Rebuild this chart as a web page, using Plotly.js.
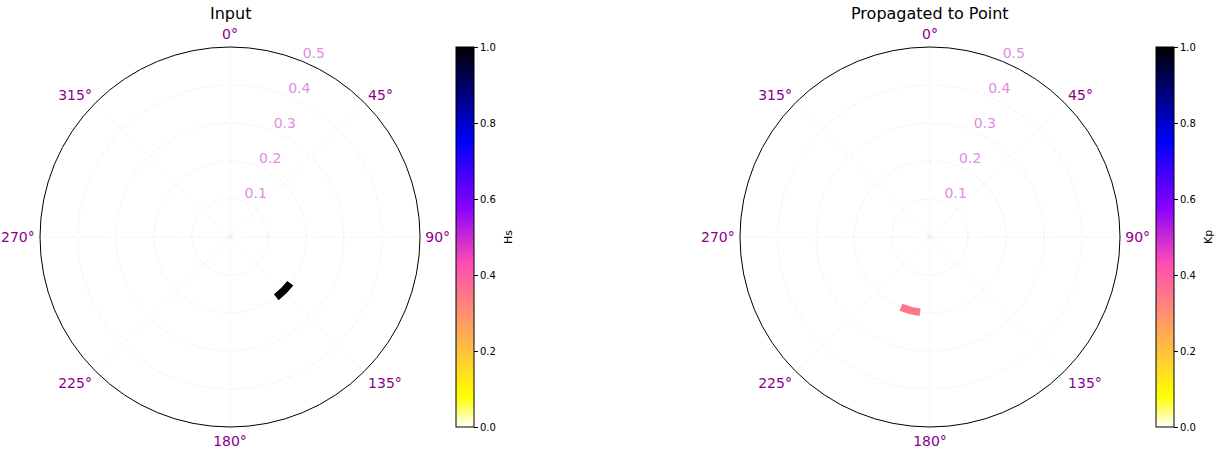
<!DOCTYPE html>
<html>
<head>
<meta charset="utf-8">
<script src="https://cdn.plot.ly/plotly-3.0.1.min.js"></script>
<style>html,body{margin:0;padding:0;background:#fff;}#chart{width:1218px;height:457px;}</style>
</head>
<body>
<div id="chart"></div>
<script>
// ---- data ----
const panelTitles = ["Input", "Propagated to Point"];
const colorbarTitles = ["Hs", "Kp"];
const angleTicks = [0, 45, 90, 135, 180, 225, 270, 315];
const angleTickText = ["0°", "45°", "90°", "135°", "180°", "225°", "270°", "315°"];
const radialTicks = [0.1, 0.2, 0.3, 0.4, 0.5];
const radialLabelAngle = 22.5;
const radialRange = [0, 0.5];
const colorTicks = [0.0, 0.2, 0.4, 0.6, 0.8, 1.0];

// Input panel: one cell of the spectrum (direction, frequency bin, value)
const inputDirection = [135];
const inputDirWidth = [15];
const inputFreqLow = [0.19];
const inputFreqHigh = [0.21];
const inputHs = [1.0];

// Propagated panel
const pointDirection = [195];
const pointDirWidth = [15];
const pointFreqLow = [0.19];
const pointFreqHigh = [0.21];
const pointKp = [0.35];

// gnuplot2_r colormap
const gnuplot2r = [
  [0.0, "rgb(255,255,255)"],
  [0.08, "rgb(255,255,0)"],
  [0.43, "rgb(255,77,179)"],
  [0.58, "rgb(135,0,255)"],
  [0.75, "rgb(0,0,255)"],
  [1.0, "rgb(0,0,0)"]
];

const W = 1218, H = 457;
const font = "DejaVu Sans, sans-serif";
const gridColor = "rgba(225,170,225,0.2)";

function barTrace(theta, width, lo, hi, val, polar, cbx) {
  return {
    type: "barpolar",
    theta: theta,
    width: width,
    base: lo,
    r: hi.map((h, i) => h - lo[i]),
    subplot: polar,
    marker: {
      color: val,
      colorscale: gnuplot2r,
      cmin: 0, cmax: 1,
      line: {width: 0},
      showscale: true,
      colorbar: {
        x: cbx / W, xanchor: "left", xref: "paper",
        y: (H - 427) / H, yanchor: "bottom", yref: "paper",
        len: 380 / H, lenmode: "fraction",
        thickness: 18, thicknessmode: "pixels",
        outlinecolor: "#000", outlinewidth: 1,
        ticks: "outside", ticklen: 4, tickcolor: "#000",
        tickvals: colorTicks, ticktext: colorTicks.map(v => v.toFixed(1)),
        tickfont: {family: font, size: 10, color: "#000"},
        xpad: 0, ypad: 0
      }
    },
    hoverinfo: "skip"
  };
}

function radialLabelTrace(polar) {
  return {
    type: "scatterpolar",
    subplot: polar,
    mode: "text",
    r: radialTicks,
    theta: radialTicks.map(() => radialLabelAngle),
    text: radialTicks.map(v => v.toFixed(1)),
    textposition: "top right",
    textfont: {family: font, size: 14, color: "#e08ee0"},
    cliponaxis: false,
    hoverinfo: "skip"
  };
}

function polarLayout(x0, x1) {
  return {
    domain: {x: [x0 / W, x1 / W], y: [(H - 427) / H, (H - 47) / H]},
    bgcolor: "rgba(0,0,0,0)",
    radialaxis: {
      range: radialRange,
      tickmode: "array",
      tickvals: radialTicks,
      showticklabels: false,
      showline: false,
      ticks: "",
      gridcolor: gridColor,
      griddash: "6px,3px",
      gridwidth: 1
    },
    angularaxis: {
      rotation: 90,
      direction: "clockwise",
      tickmode: "array",
      tickvals: angleTicks,
      ticktext: angleTickText,
      ticks: "outside",
      ticklen: 2,
      tickcolor: "rgba(0,0,0,0)",
      showline: true,
      linecolor: "#000",
      linewidth: 1,
      tickfont: {family: font, size: 14, color: "#8b008b"},
      gridcolor: gridColor,
      griddash: "6px,3px",
      gridwidth: 1
    }
  };
}

const data = [
  barTrace(inputDirection, inputDirWidth, inputFreqLow, inputFreqHigh, inputHs, "polar", 456),
  radialLabelTrace("polar"),
  barTrace(pointDirection, pointDirWidth, pointFreqLow, pointFreqHigh, pointKp, "polar2", 1156),
  radialLabelTrace("polar2")
];

const titleY = 1 - 14 / H;
const cbTitleY = 1 - 237 / H;
const layout = {
  width: W, height: H,
  margin: {l: 0, r: 0, t: 0, b: 0},
  paper_bgcolor: "#fff",
  showlegend: false,
  font: {family: font},
  polar: polarLayout(40, 420),
  polar2: polarLayout(740, 1120),
  annotations: [
    {text: panelTitles[0], x: 230 / W, y: titleY, xref: "paper", yref: "paper",
     xanchor: "center", yanchor: "middle", showarrow: false, font: {family: font, size: 16, color: "#000"}},
    {text: panelTitles[1], x: 930 / W, y: titleY, xref: "paper", yref: "paper",
     xanchor: "center", yanchor: "middle", showarrow: false, font: {family: font, size: 16, color: "#000"}},
    {text: colorbarTitles[0], x: 508 / W, y: cbTitleY, xref: "paper", yref: "paper", textangle: -90,
     xanchor: "center", yanchor: "middle", showarrow: false, font: {family: font, size: 11, color: "#000"}},
    {text: colorbarTitles[1], x: 1208 / W, y: cbTitleY, xref: "paper", yref: "paper", textangle: -90,
     xanchor: "center", yanchor: "middle", showarrow: false, font: {family: font, size: 11, color: "#000"}}
  ]
};

Plotly.newPlot("chart", data, layout, {staticPlot: true, displayModeBar: false});
</script>
</body>
</html>
